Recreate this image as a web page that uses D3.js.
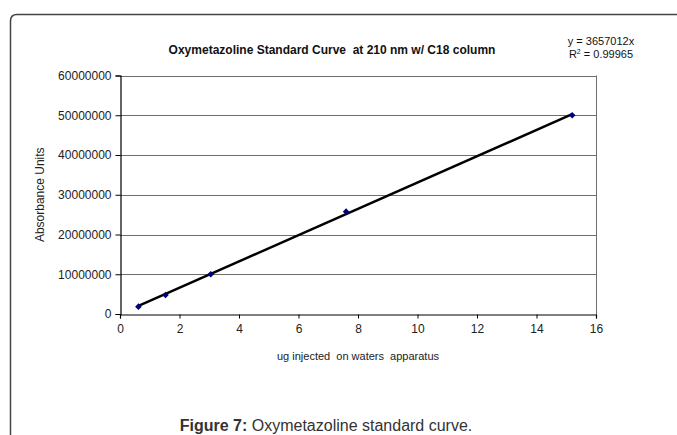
<!DOCTYPE html>
<html>
<head>
<meta charset="utf-8">
<script src="https://cdn.jsdelivr.net/npm/d3@7"></script>
<style>
  body { margin: 0; background: #fff; }
  svg { display: block; font-family: "Liberation Sans", Arial, sans-serif; }
</style>
</head>
<body>
<svg id="chart" width="677" height="435"></svg>
<script>
// values
let ugInjected = [0.62, 1.53, 3.05, 7.6, 15.2];
let absorbance = [1840000, 4780000, 10000000, 25750000, 50000000];
let xTicks = [0, 2, 4, 6, 8, 10, 12, 14, 16];
let yTicks = [0, 10000000, 20000000, 30000000, 40000000, 50000000, 60000000];

let svg = d3.select('#chart');

let plot = { left: 120, right: 596, top: 75.5, bottom: 314 };

let x = d3.scaleLinear().domain([0, 16]).range([plot.left, plot.right]);
let y = d3.scaleLinear().domain([0, 60000000]).range([plot.bottom, plot.top]);

// outer frame, rounded corner top-left, runs off the picture
svg.append('path')
  .attr('d', 'M10.5,440 L10.5,21 Q10.5,14.5 17,14.5 L690,14.5')
  .attr('fill', 'none')
  .attr('stroke', '#444')
  .attr('stroke-width', 1.5);

// gridlines
svg.append('g')
  .selectAll('line')
  .data(yTicks.slice(1))
  .enter()
  .append('line')
  .attr('x1', plot.left)
  .attr('x2', plot.right)
  .attr('y1', (d) => Math.round(y(d)) + 0.5)
  .attr('y2', (d) => Math.round(y(d)) + 0.5)
  .attr('stroke', '#6e6e6e')
  .attr('stroke-width', 1);

// right border of plot area
svg.append('line')
  .attr('x1', plot.right + 0.5)
  .attr('x2', plot.right + 0.5)
  .attr('y1', plot.top)
  .attr('y2', plot.bottom)
  .attr('stroke', '#6e6e6e');

// axes
let yAxis = svg.append('g')
  .attr('transform', 'translate(' + (plot.left + 0.5) + ',0)')
  .call(d3.axisLeft(y).tickValues(yTicks).tickSize(5).tickPadding(4).tickFormat(d3.format('d')));

let xAxis = svg.append('g')
  .attr('transform', 'translate(0,' + (plot.bottom + 0.5) + ')')
  .call(d3.axisBottom(x).tickValues(xTicks).tickSize(4).tickPadding(6));

[yAxis, xAxis].forEach((ax) => {
  ax.select('.domain').attr('stroke', '#000').attr('stroke-width', 1.2);
  ax.selectAll('.tick line').attr('stroke', '#000');
  ax.selectAll('.tick text')
    .attr('fill', '#222')
    .style('font-size', '12px')
    .style('font-family', '"Liberation Sans", Arial, sans-serif');
});

// trendline through origin (least squares)
let sxy = d3.sum(ugInjected, (v, i) => v * absorbance[i]);
let sxx = d3.sum(ugInjected, (v) => v * v);
let slope = sxy / sxx;
let xMin = d3.min(ugInjected);
let xMax = d3.max(ugInjected);

svg.append('line')
  .attr('x1', x(xMin))
  .attr('y1', y(slope * xMin))
  .attr('x2', x(xMax))
  .attr('y2', y(slope * xMax))
  .attr('stroke', '#000')
  .attr('stroke-width', 2.5);

// markers
svg.append('g')
  .selectAll('path')
  .data(ugInjected)
  .enter()
  .append('path')
  .attr('d', d3.symbol().type(d3.symbolSquare).size(22))
  .attr('transform', (d, i) => 'translate(' + x(d) + ',' + y(absorbance[i]) + ') rotate(45)')
  .attr('fill', '#00007a');

// title
svg.append('text')
  .attr('x', 332)
  .attr('y', 54)
  .attr('text-anchor', 'middle')
  .style('font-size', '12px')
  .style('font-weight', 'bold')
  .attr('fill', '#111')
  .text('Oxymetazoline Standard Curve\u00a0 at 210 nm w/ C18 column');

// equation
let eq = svg.append('text')
  .attr('x', 601)
  .attr('text-anchor', 'middle')
  .style('font-size', '11px')
  .attr('fill', '#111');
eq.append('tspan').attr('x', 601).attr('y', 45).text('y = 3657012x');
let r2 = eq.append('tspan').attr('x', 601).attr('y', 58);
r2.append('tspan').text('R');
r2.append('tspan').attr('dy', -4).style('font-size', '7px').text('2');
r2.append('tspan').attr('dy', 4).text(' = 0.99965');

// axis titles
svg.append('text')
  .attr('transform', 'translate(44,' + ((plot.top + plot.bottom) / 2) + ') rotate(-90)')
  .attr('text-anchor', 'middle')
  .style('font-size', '12px')
  .attr('fill', '#222')
  .text('Absorbance Units');

svg.append('text')
  .attr('x', (plot.left + plot.right) / 2)
  .attr('y', 360)
  .attr('text-anchor', 'middle')
  .style('font-size', '11px')
  .attr('fill', '#222')
  .text('ug injected\u00a0 on waters\u00a0 apparatus');

// caption
let cap = svg.append('text')
  .attr('x', 326)
  .attr('y', 431)
  .attr('text-anchor', 'middle')
  .style('font-size', '16px')
  .attr('fill', '#333');
cap.append('tspan').style('font-weight', 'bold').text('Figure 7:');
cap.append('tspan').text(' Oxymetazoline standard curve.');
</script>
</body>
</html>
